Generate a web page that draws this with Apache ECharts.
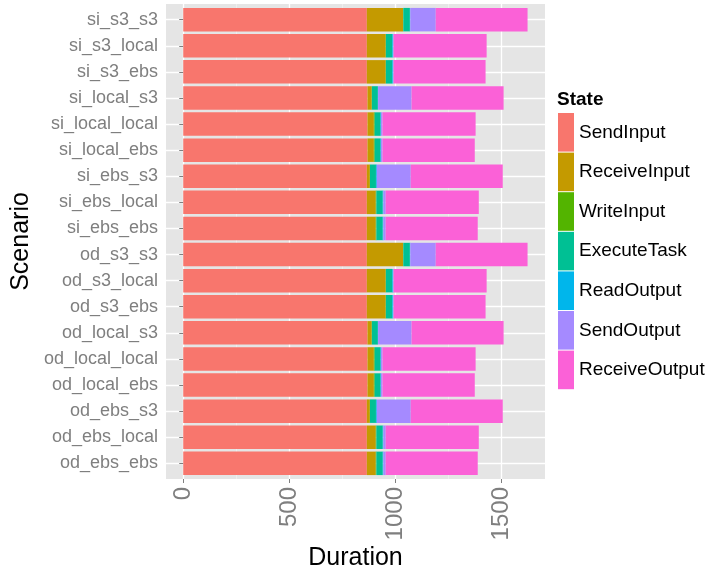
<!DOCTYPE html>
<html>
<head>
<meta charset="utf-8">
<script src="https://cdn.jsdelivr.net/npm/echarts@6/dist/echarts.min.js"></script>
<style>
html,body{margin:0;padding:0;background:#fff;}
#chart{width:710px;height:571px;}
</style>
</head>
<body>
<div id="chart"></div>
<script>
const categories = ['si_s3_s3','si_s3_local','si_s3_ebs','si_local_s3','si_local_local','si_local_ebs','si_ebs_s3','si_ebs_local','si_ebs_ebs',
                    'od_s3_s3','od_s3_local','od_s3_ebs','od_local_s3','od_local_local','od_local_ebs','od_ebs_s3','od_ebs_local','od_ebs_ebs'];
const states = ['SendInput','ReceiveInput','WriteInput','ExecuteTask','ReadOutput','SendOutput','ReceiveOutput'];
const sendInput     = [866,866,866,869,869,869,866,866,866, 866,866,866,869,869,869,866,866,866];
const receiveInput  = [171, 89, 89, 20, 30, 30, 14, 42, 42, 171, 89, 89, 20, 30, 30, 14, 42, 42];
const writeInput    = [  1,  1,  1,  1,  4,  4,  1,  3,  3,   1,  1,  1,  1,  4,  4,  1,  3,  3];
const executeTask   = [ 31, 30, 30, 28, 28, 28, 28, 30, 30,  31, 30, 30, 28, 28, 28, 28, 30, 30];
const readOutput    = [  2,  5,  5,  1,  2,  2,  4,  3,  3,   2,  5,  5,  1,  2,  2,  4,  3,  3];
const sendOutput    = [120,  1,  1,158,  7,  7,160, 11, 11, 120,  1,  1,158,  7,  7,160, 11, 11];
const receiveOutput = [433,439,434,434,439,435,434,439,434, 433,439,434,434,439,435,434,439,434];
const majorTicks = [0,500,1000,1500];
const minorTicks = [250,750,1250];
const xMin = -81.25, xMax = 1706.25;

const seriesValues = [sendInput, receiveInput, writeInput, executeTask, readOutput, sendOutput, receiveOutput];
const colors = ['#F8766D','#C49A00','#53B400','#00C094','#00B6EB','#A58AFF','#FB61D7'];
const catCenters = categories.map((c,i)=>i+1);
const FONT = 'Liberation Sans, Arial, Helvetica, sans-serif';

const chart = echarts.init(document.getElementById('chart'), null, {renderer:'canvas'});
const panel = {left:166, right:165, top:4, bottom:92};
const unit = (571 - panel.top - panel.bottom) / 18.2;
const barGrid = {left:166, right:165, top:panel.top + 0.1*unit, bottom:panel.bottom + 0.1*unit};

const option = {
  animation:false,
  textStyle:{fontFamily:FONT},
  title:{text:'State', left:557, top:90, padding:0,
    textStyle:{fontFamily:FONT, fontSize:19, fontWeight:'bold', color:'#000'}},
  legend:{orient:'vertical', left:558, top:113, padding:0, itemWidth:16, itemHeight:38.6, itemGap:1,
    icon:'rect', data:states, selectedMode:false,
    textStyle:{fontFamily:FONT, fontSize:19, color:'#000'}},
  grid:[
    Object.assign({show:true, backgroundColor:'#E5E5E5', borderWidth:0, outerBoundsMode:'none', containLabel:false}, panel),
    Object.assign({show:false, outerBoundsMode:'none', containLabel:false}, panel),
    Object.assign({show:false, outerBoundsMode:'none', containLabel:false}, barGrid)
  ],
  xAxis:[
    {type:'value', gridIndex:0, min:xMin, max:xMax, axisLine:{show:false}, axisLabel:{show:false},
      axisTick:{show:false, customValues:minorTicks},
      splitLine:{show:true, lineStyle:{color:'#F2F2F2', width:0.7}}},
    {type:'value', gridIndex:1, min:xMin, max:xMax, axisLine:{show:false},
      axisTick:{show:true, customValues:majorTicks, length:4, lineStyle:{color:'#7F7F7F', width:1}},
      axisLabel:{show:true, customValues:majorTicks, rotate:90, margin:8, fontSize:24, color:'#7F7F7F', fontFamily:FONT,
        formatter:(v)=>String(v)},
      splitLine:{show:true, lineStyle:{color:'#FFFFFF', width:1.3}},
      name:'Duration', nameLocation:'middle', nameGap:67, nameMoveOverlap:false,
      nameTextStyle:{fontSize:25, color:'#000', fontFamily:FONT}},
    {type:'value', gridIndex:2, min:xMin, max:xMax, axisLine:{show:false}, axisLabel:{show:false},
      axisTick:{show:false, customValues:majorTicks}, splitLine:{show:false}}
  ],
  yAxis:[
    {type:'value', gridIndex:0, min:0, max:1, show:false},
    {type:'value', gridIndex:1, min:0.4, max:18.6, inverse:true, axisLine:{show:false}, axisLabel:{show:false},
      axisTick:{show:false, customValues:catCenters},
      splitLine:{show:true, lineStyle:{color:'#FFFFFF', width:1.3}}},
    {type:'category', gridIndex:2, data:categories, inverse:true, axisLine:{show:false},
      axisTick:{show:true, alignWithLabel:true, length:4, lineStyle:{color:'#7F7F7F', width:1}},
      axisLabel:{fontSize:18, color:'#7F7F7F', margin:8, fontFamily:FONT},
      splitLine:{show:false},
      name:'Scenario', nameLocation:'middle', nameRotate:90, nameGap:132, nameMoveOverlap:false,
      nameTextStyle:{fontSize:25, color:'#000', fontFamily:FONT}}
  ],
  series: states.map((s,i)=>({
    name:s, type:'bar', stack:'total', xAxisIndex:2, yAxisIndex:2,
    barCategoryGap:'10%', data:seriesValues[i],
    itemStyle:{color:colors[i], borderWidth:0},
    emphasis:{disabled:true}, silent:true
  }))
};
chart.setOption(option);
</script>
</body>
</html>
